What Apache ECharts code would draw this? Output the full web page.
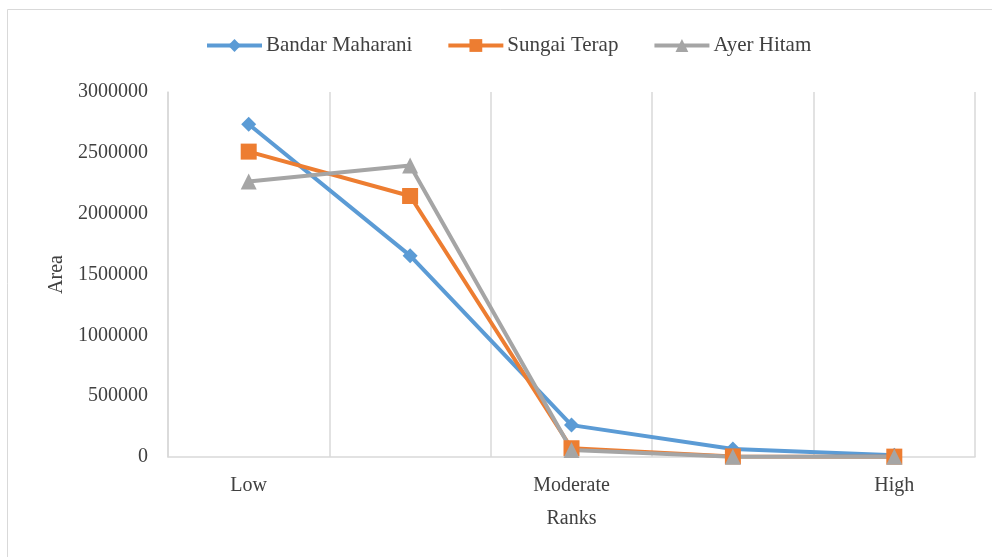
<!DOCTYPE html>
<html>
<head>
<meta charset="utf-8">
<script src="https://cdn.jsdelivr.net/npm/echarts@6/dist/echarts.min.js"></script>
<style>
html,body{margin:0;padding:0;background:#fff;}
#c{width:992px;height:557px;}
</style>
</head>
<body>
<div id="c"></div>
<script>
const categories = ['Low', '', 'Moderate', '', 'High'];
const bandarMaharani = [2735000, 1655000, 262000, 65000, 15000];
const sungaiTerap = [2510000, 2145000, 72000, 5000, 3000];
const ayerHitam = [2265000, 2395000, 58000, 3000, 2000];
const yTicks = [0, 500000, 1000000, 1500000, 2000000, 2500000, 3000000];

const font = 'Liberation Serif';
const chart = echarts.init(document.getElementById('c'));
chart.setOption({
  animation: false,
  backgroundColor: '#fff',
  graphic: [{
    type: 'rect', left: 5, top: 7, z: -1,
    shape: { width: 1000, height: 600 },
    style: { fill: 'none', stroke: '#d9d9d9', lineWidth: 1 }
  }],
  legend: {
    top: 30, left: 200,
    itemWidth: 55, itemHeight: 16, itemGap: 34,
    lineStyle: { width: 4 },
    textStyle: { fontFamily: font, fontSize: 21, color: '#404040', padding: [0,0,0,-1] },
    data: ['Bandar Maharani', 'Sungai Terap', 'Ayer Hitam']
  },
  grid: { left: 168, right: 17, top: 92, bottom: 100 },
  xAxis: {
    type: 'category', data: categories, boundaryGap: true,
    name: 'Ranks', nameLocation: 'middle', nameGap: 52,
    nameTextStyle: { fontFamily: font, fontSize: 20, color: '#404040' },
    axisLine: { show: true, lineStyle: { color: '#d9d9d9', width: 1.5 } },
    axisTick: { show: false },
    axisLabel: { interval: 0, margin: 19, fontFamily: font, fontSize: 20, color: '#404040' },
    splitLine: { show: true, interval: 0, lineStyle: { color: '#d9d9d9', width: 1.5 } }
  },
  yAxis: {
    type: 'value', min: 0, max: 3000000, interval: 500000,
    name: 'Area', nameLocation: 'middle', nameGap: 99,
    nameTextStyle: { fontFamily: font, fontSize: 20, color: '#404040' },
    axisLine: { show: true, lineStyle: { color: '#d9d9d9', width: 1.5 } },
    axisTick: { show: false },
    splitLine: { show: false },
    axisLabel: { margin: 20, fontFamily: font, fontSize: 20, color: '#404040',
      formatter: v => yTicks.includes(v) ? String(v) : '' }
  },
  series: [
    { name: 'Bandar Maharani', type: 'line', data: bandarMaharani,
      symbol: 'diamond', symbolSize: 15, color: '#5B9BD5',
      lineStyle: { width: 4 } },
    { name: 'Sungai Terap', type: 'line', data: sungaiTerap,
      symbol: 'rect', symbolSize: 16, color: '#ED7D31',
      lineStyle: { width: 4 } },
    { name: 'Ayer Hitam', type: 'line', data: ayerHitam,
      symbol: 'triangle', symbolSize: 16, color: '#A5A5A5',
      lineStyle: { width: 4 } }
  ]
});
</script>
</body>
</html>
